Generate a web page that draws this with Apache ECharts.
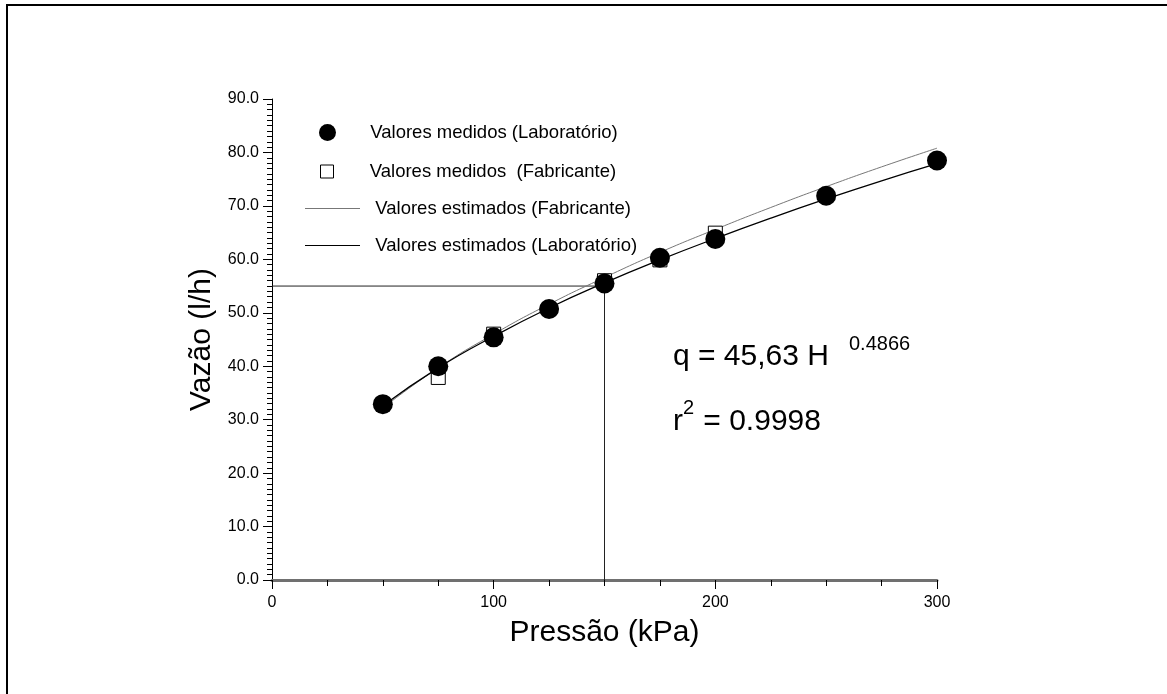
<!DOCTYPE html>
<html>
<head>
<meta charset="utf-8">
<script src="https://cdn.jsdelivr.net/npm/echarts@6/dist/echarts.min.js"></script>
<style>
html,body{margin:0;padding:0;background:#fff;}
#chart{width:1167px;height:694px;}
</style>
</head>
<body>
<div id="chart"></div>
<script>
// ---- data ----
const labPressure = [50, 75, 100, 125, 150, 175, 200, 250, 300];
const labMeasured = [32.9, 40.0, 45.4, 50.7, 55.5, 60.3, 63.8, 71.9, 78.5];
const fabPressure = [75, 100, 150, 175, 200];
const fabMeasured = [37.9, 46.0, 56.0, 59.9, 64.9];
const estPressure = [50, 75, 100, 125, 150, 175, 200, 225, 250, 275, 300];
const fabEstimated = [32.2, 39.7, 46.0, 51.6, 56.6, 61.3, 65.6, 69.7, 73.6, 77.3, 80.8];
const labEstimated = [32.6, 39.7, 45.6, 50.9, 55.6, 59.9, 63.9, 67.7, 71.3, 74.7, 77.9];
const refX = [0, 150, 150];
const refY = [55, 55, 0];
const xTicks = [0, 100, 200, 300];
const yTicks = [0, 10, 20, 30, 40, 50, 60, 70, 80, 90];

const names = {
  labM: 'Valores medidos (Laboratório)',
  fabM: 'Valores medidos  (Fabricante)',
  fabE: 'Valores estimados (Fabricante)',
  labE: 'Valores estimados (Laboratório)'
};

const zip = (a, b) => a.map((v, i) => [v, b[i]]);
const FONT = 'Arial, "Liberation Sans", sans-serif';

const legendBase = {
  left: 300, orient: 'vertical', itemWidth: 55, selectedMode: false,
  formatter: n => '  ' + n,
  textStyle: { fontFamily: FONT, fontSize: 18.5, color: '#000' }
};

const chart = echarts.init(document.getElementById('chart'), null, { renderer: 'canvas' });
chart.setOption({
  animation: false,
  backgroundColor: '#fff',
  grid: { left: 272, right: 230, top: 99, bottom: 114, containLabel: false },
  legend: [
    Object.assign({}, legendBase, { data: [names.labM], left: 314, top: 118, itemHeight: 17 }),
    Object.assign({}, legendBase, { data: [{ name: names.fabM, icon: 'path://M0,0H13V13H0Z' }], left: 315, top: 157, itemHeight: 13,
      itemStyle: { color: '#fff', borderColor: '#000', borderWidth: 1 } }),
    Object.assign({}, legendBase, { data: [{ name: names.fabE, icon: 'rect' }], top: 194, itemHeight: 1 }),
    Object.assign({}, legendBase, { data: [{ name: names.labE, icon: 'rect' }], top: 231, itemHeight: 1 })
  ],
  xAxis: {
    type: 'value', min: xTicks[0], max: xTicks[xTicks.length - 1], interval: 100,
    name: 'Pressão (kPa)', nameLocation: 'middle', nameGap: 38,
    nameTextStyle: { fontFamily: FONT, fontSize: 30, color: '#000' },
    axisLine: { show: true, onZero: false, lineStyle: { color: '#707070', width: 3 } },
    axisTick: { show: true, length: 9, lineStyle: { color: '#000', width: 1 } },
    minorTick: { show: true, splitNumber: 4, length: 6, lineStyle: { color: '#000', width: 1 } },
    axisLabel: { fontFamily: FONT, fontSize: 16, color: '#000', margin: 15 },
    splitLine: { show: false }, minorSplitLine: { show: false }
  },
  yAxis: {
    type: 'value', min: yTicks[0], max: yTicks[yTicks.length - 1], interval: 10,
    name: 'Vazão (l/h)', nameLocation: 'middle', nameGap: 45,
    nameTextStyle: { fontFamily: FONT, fontSize: 30, color: '#000' },
    axisLine: { show: true, onZero: false, lineStyle: { color: '#000', width: 1 } },
    axisTick: { show: true, length: 9, lineStyle: { color: '#000', width: 1 } },
    minorTick: { show: true, splitNumber: 10, length: 5, lineStyle: { color: '#000', width: 1 } },
    axisLabel: { fontFamily: FONT, fontSize: 16, color: '#000', margin: 13, formatter: v => v.toFixed(1) },
    splitLine: { show: false }, minorSplitLine: { show: false }
  },
  series: [
    {
      name: 'ref', type: 'line', data: zip(refX, refY), symbol: 'none', silent: true, z: 1,
      lineStyle: { color: '#222', width: 1 }
    },
    {
      name: names.fabE, type: 'line', data: zip(estPressure, fabEstimated), symbol: 'none', smooth: true,
      silent: true, z: 2, itemStyle: { color: '#777' }, lineStyle: { color: '#777', width: 1 }
    },
    {
      name: names.labE, type: 'line', data: zip(estPressure, labEstimated), symbol: 'none', smooth: true,
      silent: true, z: 2, itemStyle: { color: '#000' }, lineStyle: { color: '#000', width: 1.3 }
    },
    {
      name: names.fabM, type: 'scatter', data: zip(fabPressure, fabMeasured), symbol: 'rect', symbolSize: 14,
      silent: true, z: 3, itemStyle: { color: '#fff', borderColor: '#000', borderWidth: 1, opacity: 1 }
    },
    {
      name: names.labM, type: 'scatter', data: zip(labPressure, labMeasured), symbol: 'circle', symbolSize: 20,
      silent: true, z: 4, itemStyle: { color: '#000', opacity: 1 }
    }
  ],
  graphic: [
    { type: 'rect', shape: { x: 7, y: 4, width: 1160, height: 2 }, style: { fill: '#000' }, silent: true },
    { type: 'rect', shape: { x: 6, y: 4, width: 2, height: 690 }, style: { fill: '#000' }, silent: true },
    { type: 'text', x: 673, y: 357, style: { text: 'q = 45,63 H', font: '30px ' + FONT, fill: '#000', verticalAlign: 'middle' }, silent: true },
    { type: 'text', x: 849, y: 344, style: { text: '0.4866', font: '20px ' + FONT, fill: '#000', verticalAlign: 'middle' }, silent: true },
    { type: 'text', x: 673, y: 422, style: { text: 'r', font: '30px ' + FONT, fill: '#000', verticalAlign: 'middle' }, silent: true },
    { type: 'text', x: 683, y: 408, style: { text: '2', font: '20px ' + FONT, fill: '#000', verticalAlign: 'middle' }, silent: true },
    { type: 'text', x: 695, y: 422, style: { text: ' = 0.9998', font: '30px ' + FONT, fill: '#000', verticalAlign: 'middle' }, silent: true }
  ]
});
</script>
</body>
</html>
